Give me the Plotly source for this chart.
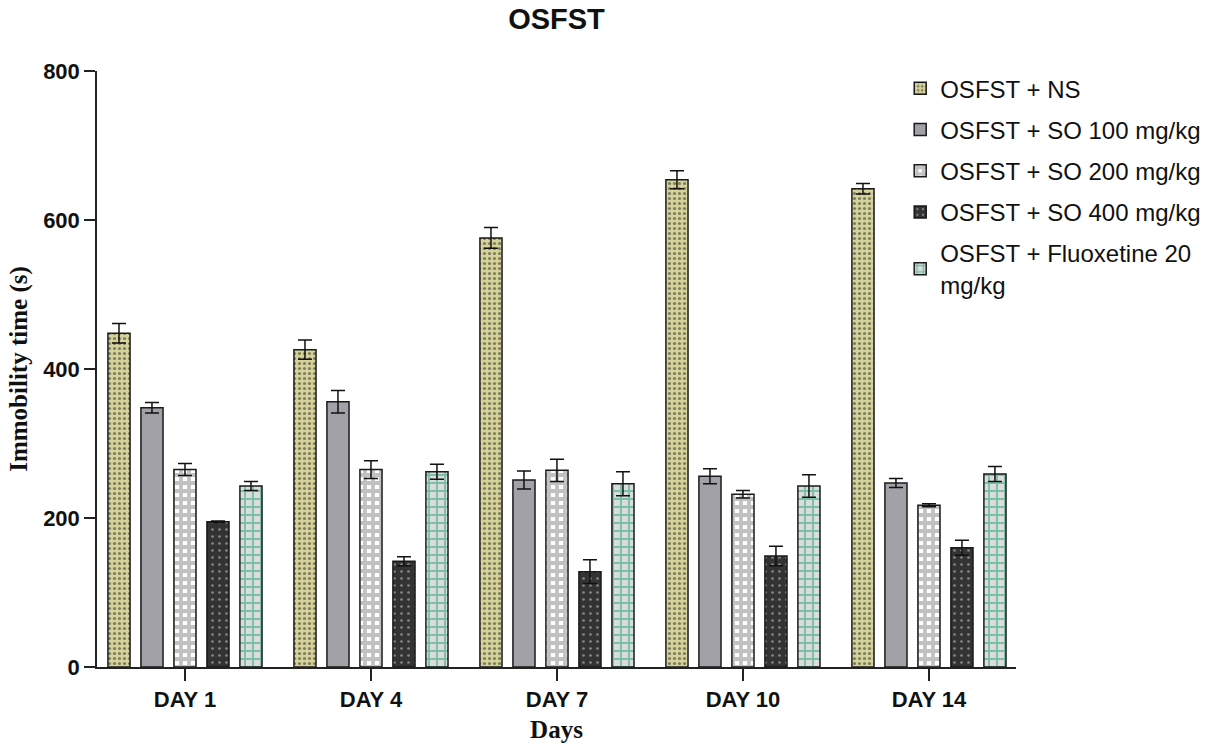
import plotly.graph_objects as go

days = ["DAY 1", "DAY 4", "DAY 7", "DAY 10", "DAY 14"]

groups = [
    "OSFST + NS",
    "OSFST + SO 100 mg/kg",
    "OSFST + SO 200 mg/kg",
    "OSFST + SO 400 mg/kg",
    "OSFST + Fluoxetine 20<br>mg/kg",
]

ns_mean = [448, 426, 576, 654, 642]
ns_err = [13, 13, 14, 12, 7]

so100_mean = [348, 356, 251, 256, 247]
so100_err = [7, 15, 12, 10, 6]

so200_mean = [265, 265, 264, 232, 217]
so200_err = [8, 12, 15, 5, 2]

so400_mean = [195, 142, 128, 149, 160]
so400_err = [1, 6, 16, 13, 10]

flx_mean = [243, 262, 246, 243, 259]
flx_err = [6, 10, 16, 15, 10]

means = [ns_mean, so100_mean, so200_mean, so400_mean, flx_mean]
errs = [ns_err, so100_err, so200_err, so400_err, flx_err]

# fill style per treatment group
styles = [
    dict(color="#d6d39a", pattern=dict(shape=".", fgcolor="#262626", bgcolor="#d6d39a", size=5, solidity=0.32)),
    dict(color="#a1a1a7"),
    dict(color="#ffffff", pattern=dict(shape="+", fgcolor="#838383", bgcolor="#ffffff", size=8, solidity=0.72)),
    dict(color="#333333", pattern=dict(shape=".", fgcolor="#d8d8d8", bgcolor="#333333", size=7, solidity=0.12)),
    dict(color="#dcdcdc", pattern=dict(shape="+", fgcolor="#15a36c", bgcolor="#dcdcdc", size=8, solidity=0.42)),
]

fig = go.Figure()
for i, (name, m, e, st) in enumerate(zip(groups, means, errs, styles)):
    marker = dict(color=st["color"], line=dict(color="#1a1a1a", width=1.5))
    if "pattern" in st:
        marker["pattern"] = st["pattern"]
    fig.add_trace(go.Bar(
        x=days, y=m, name=name, legendgroup=f"g{i}",
        marker=marker,
        error_y=dict(type="data", array=e, visible=True, color="#111111", thickness=1.5, width=7),
    ))

tick_font = dict(family="Liberation Sans, Arial", size=22, color="#111", weight="bold")
title_font = dict(family="Liberation Serif, Times New Roman", size=25, color="#111", weight="bold")

fig.update_layout(
    width=1211, height=748,
    margin=dict(l=97, r=195, t=71, b=81, autoexpand=False),
    paper_bgcolor="white", plot_bgcolor="white",
    barmode="group", bargap=0.113, bargroupgap=0.33,
    title=dict(text="OSFST", x=0.5, xref="paper", y=0.975, yanchor="middle",
               font=dict(family="Liberation Sans, Arial", size=29, color="#111", weight="bold")),
    showlegend=True,
    legend=dict(x=0.874, y=1.008, xanchor="left", yanchor="top",
                font=dict(family="Liberation Sans, Arial", size=24, color="#111"),
                tracegroupgap=7, bgcolor="rgba(0,0,0,0)"),
    xaxis=dict(range=[-0.473, 4.468], showline=True, linecolor="#222", linewidth=1.5,
               ticks="outside", ticklen=12, tickwidth=1.5, tickcolor="#222",
               tickfont=tick_font,
               title=dict(text="Days", font=title_font, standoff=9)),
    yaxis=dict(range=[0, 800], tickvals=[0, 200, 400, 600, 800], showline=True,
               linecolor="#222", linewidth=1.5, showgrid=False, zeroline=False,
               ticks="outside", ticklen=11, tickwidth=1.5, tickcolor="#222",
               tickfont=tick_font,
               title=dict(text="Immobility time (s)", font=title_font, standoff=8)),
)

fig.write_html("out.html")
